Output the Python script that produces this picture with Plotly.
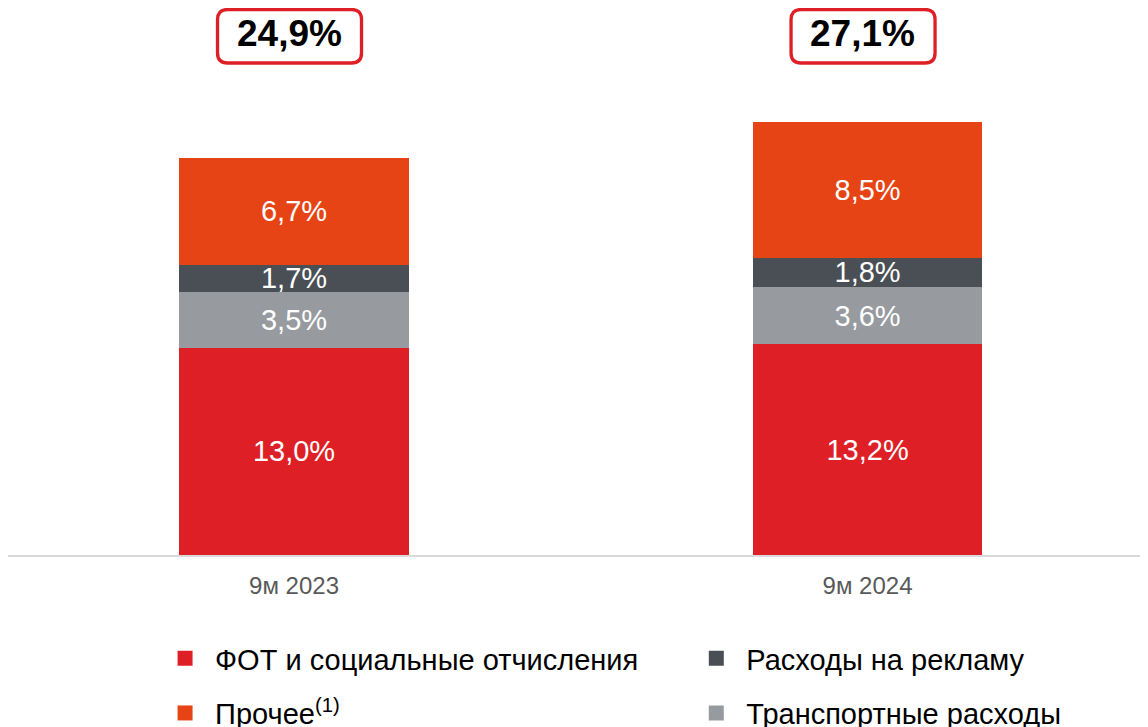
import plotly.graph_objects as go

periods = ["9м 2023", "9м 2024"]
payroll = [13.0, 13.2]      # ФОТ и социальные отчисления
transport = [3.5, 3.6]      # Транспортные расходы
advertising = [1.7, 1.8]    # Расходы на рекламу
other = [6.7, 8.5]          # Прочее
totals = [24.9, 27.1]

RED = "#df1f26"
ORANGE = "#e64415"
DARK = "#4a4f56"
GREY = "#979a9f"
FONT = "Liberation Sans, Arial, sans-serif"


def bar(values, color):
    return go.Bar(
        x=periods, y=values, marker=dict(color=color, line=dict(width=0)),
        width=0.4, texttemplate="%{y:.1f}%", textposition="inside",
        insidetextanchor="middle", constraintext="none",
        textfont=dict(color="white", size=29, family=FONT),
        showlegend=False, hoverinfo="skip")


def key(name, color, legend, rank):
    # legend-only entry with a larger square swatch
    return go.Scatter(
        x=[None], y=[None], mode="markers", name=name,
        marker=dict(symbol="square", size=15, color=color),
        legend=legend, legendgroup=name, legendrank=rank)


fig = go.Figure()
fig.add_trace(bar(payroll, RED))
fig.add_trace(bar(transport, GREY))
fig.add_trace(bar(advertising, DARK))
fig.add_trace(bar(other, ORANGE))

fig.add_trace(key("ФОТ и социальные отчисления", RED, "legend", 1))
fig.add_trace(key("Прочее<sup>(1)</sup>", ORANGE, "legend", 2))
fig.add_trace(key("Расходы на рекламу", DARK, "legend2", 1))
fig.add_trace(key("Транспортные расходы", GREY, "legend2", 2))

# total labels in rounded boxes above the bars
dx = -4.5
w, h, r = 72, 26.75, 10
x0, x1 = dx - w, dx + w
box = (f"M{x0 + r},{-h} L{x1 - r},{-h} Q{x1},{-h} {x1},{-h + r} L{x1},{h - r} "
       f"Q{x1},{h} {x1 - r},{h} L{x0 + r},{h} Q{x0},{h} {x0},{h - r} "
       f"L{x0},{-h + r} Q{x0},{-h} {x0 + r},{-h} Z")
for p, t in zip(periods, totals):
    fig.add_shape(type="path", path=box, xref="x", yref="paper",
                  xsizemode="pixel", ysizemode="pixel", xanchor=p, yanchor=1.0921,
                  line=dict(color=RED, width=3.3), fillcolor="white")
    fig.add_annotation(x=p, y=1.0979, xref="x", yref="paper", showarrow=False,
                       xanchor="center", yanchor="middle", xshift=-5,
                       text=f"<b>{t:.1f}%</b>".replace(".", ","),
                       font=dict(size=37, color="black", family=FONT))

legend_style = dict(orientation="v", xanchor="left", yanchor="top",
                    font=dict(size=29, color="black", family=FONT),
                    tracegroupgap=14, traceorder="grouped", itemwidth=50,
                    bgcolor="rgba(0,0,0,0)")

# page body has an 8px margin, so the figure is 8px smaller than the window
fig.update_layout(
    width=1140, height=719,
    margin=dict(l=0, r=0, t=72, b=172, autoexpand=False),
    barmode="stack",
    separators=", ",
    paper_bgcolor="white", plot_bgcolor="white",
    font=dict(family=FONT),
    xaxis=dict(range=[-0.4987, 1.489], showline=True, linecolor="#d9d9d9", linewidth=2,
               ticks="", showgrid=False, tickfont=dict(size=24, color="#595959"),
               ticklabelstandoff=8),
    yaxis=dict(range=[0, 29.76], visible=False),
    legend=dict(x=0.129, y=-0.164, **legend_style),
    legend2=dict(x=0.595, y=-0.164, **legend_style),
    uniformtext=dict(minsize=29, mode="show"),
)

fig.write_html("out.html")
